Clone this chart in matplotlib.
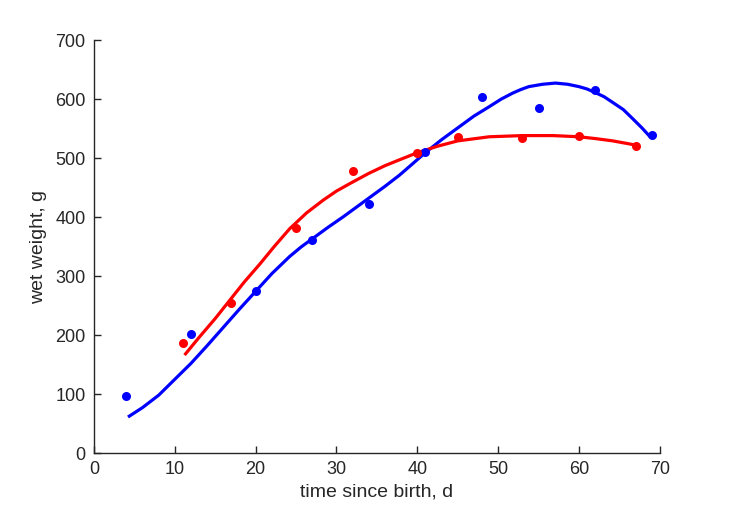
import matplotlib
matplotlib.use("Agg")
import matplotlib.pyplot as plt

# observed data
t_blue = [4, 12, 20, 27, 34, 41, 48, 55, 62, 69]
w_blue = [97, 202, 275, 361, 422, 510, 604, 584, 616, 539]
t_red = [11, 17, 25, 32, 40, 45, 53, 60, 67]
w_red = [186, 254, 381, 478, 509, 535, 534, 537, 521]

# fitted curves
tc_blue = [4.2, 6, 8, 10, 12, 14, 16, 18, 20, 22, 24.2, 25.6, 27.1, 29, 30.8,
           32.4, 34.1, 36, 37.8, 39.4, 40.9, 43, 45.2, 47, 48.9, 50.4, 51.8, 52.8,
           53.8, 55.5, 57.1, 58.6, 60, 61, 62, 63.1, 64.2, 65.5, 66.7, 67.8, 68.8]
wc_blue = [61, 77, 98, 125, 152, 182, 213, 244, 274, 304, 333, 349, 364, 383, 400,
           416, 433, 452, 471, 490, 508, 531, 553, 571, 587, 600, 610, 616,
           621, 625, 627, 625, 621, 617, 611, 604, 594, 582, 566, 551, 536]
tc_red = [11.2, 13, 15, 16.8, 18.6, 20.5, 22.3, 24.2, 26.3, 28.4, 30, 31.7, 34,
          36, 37.8, 40, 42.5, 45, 48.9, 53, 56.8, 60, 62, 64.2, 67]
wc_red = [166, 196, 228, 259, 290, 320, 350, 380, 407, 429, 444, 457, 474,
          487, 497, 509, 520, 529, 536, 538, 538, 536, 533, 529, 522]

plt.rcParams['font.family'] = ['Liberation Sans', 'DejaVu Sans']

fig = plt.figure(figsize=(7.29, 5.21), dpi=100)
ax = fig.add_axes([0.129, 0.1305, 0.776, 0.7927])

ax.plot(tc_blue, wc_blue, color='#0000ff', lw=2.3, solid_capstyle='butt',
        solid_joinstyle='round')
ax.plot(tc_red, wc_red, color='#ff0000', lw=2.3, solid_capstyle='butt',
        solid_joinstyle='round')
ax.plot(t_blue, w_blue, 'o', color='#0000ff', ms=6.5, mec='none')
ax.plot(t_red, w_red, 'o', color='#ff0000', ms=6.5, mec='none')

ax.set_xlim(0, 70)
ax.set_ylim(0, 700)
ax.set_xticks(range(0, 71, 10))
ax.set_yticks(range(0, 701, 100))

dark = '#262626'
for side in ['top', 'right']:
    ax.spines[side].set_visible(False)
for side in ['left', 'bottom']:
    ax.spines[side].set_color(dark)
    ax.spines[side].set_linewidth(1.0)
ax.tick_params(direction='in', length=5, width=1.0, colors=dark,
               labelsize=13, pad=6)

ax.set_xlabel('time since birth, d', fontsize=14, color=dark, labelpad=4)
ax.set_ylabel('wet weight, g', fontsize=14, color=dark, labelpad=6)

fig.savefig('out.png', dpi=100)
